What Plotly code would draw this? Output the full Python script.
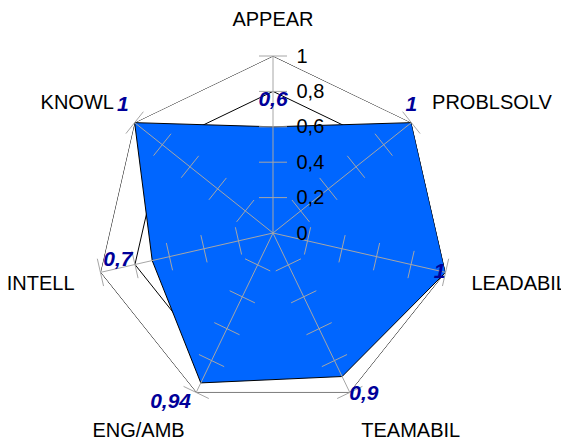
import plotly.graph_objects as go

categories = ['APPEAR', 'PROBLSOLV', 'LEADABIL', 'TEAMABIL', 'ENG/AMB', 'INTELL', 'KNOWL']
scores = [0.6, 1, 1, 0.9, 0.94, 0.7, 1]
score_labels = ['0,6', '1', '1', '0,9', '0,94', '0,7', '1']
label_pos = ['top center', 'top center', 'middle left', 'bottom right',
             'bottom left', 'middle left', 'top left']
label_pad = [24, 8, 0, 10, 14, 30, 8]
radial_ticks = [0, 0.2, 0.4, 0.6, 0.8, 1]
radial_ticktext = ['0', '0,2', '0,4', '0,6', '0,8', '1']

GRAY = '#A6A6A6'
closed = categories + categories[:1]

fig = go.Figure()

# black polygon grid, under the fill
for t in radial_ticks[1:]:
    fig.add_trace(go.Scatterpolar(
        r=[t] * len(closed), theta=closed, mode='lines',
        line=dict(color='black', width=1), hoverinfo='skip'))

# filled area
fig.add_trace(go.Scatterpolar(
    r=scores + scores[:1], theta=closed,
    mode='lines', fill='toself', fillcolor='#0066FF',
    line=dict(color='black', width=1), hoverinfo='skip'))

# gray spokes above the fill
for c in categories:
    fig.add_trace(go.Scatterpolar(
        r=[0, 1], theta=[c, c], mode='lines',
        line=dict(color=GRAY, width=1), hoverinfo='skip'))

# cross ticks on every spoke
step = 360 / len(categories)
tick_r, tick_theta, tick_angle = [], [], []
for i, c in enumerate(categories):
    for t in radial_ticks:
        tick_r.append(t)
        tick_theta.append(c)
        tick_angle.append(i * step)
fig.add_trace(go.Scatterpolar(
    r=tick_r, theta=tick_theta, mode='markers',
    marker=dict(symbol='line-ew', size=20, angle=tick_angle,
                line=dict(color=GRAY, width=1)),
    hoverinfo='skip'))

# value labels (invisible markers push the text away from the point)
fig.add_trace(go.Scatterpolar(
    r=scores, theta=categories, mode='markers+text', text=score_labels,
    textposition=label_pos,
    marker=dict(size=label_pad, color='rgba(0,0,0,0)', line=dict(width=0)),
    textfont=dict(family='Liberation Sans', size=21, color='#000099',
                  weight='bold', style='italic'),
    hoverinfo='skip'))

fig.update_layout(
    width=569, height=444,
    margin=dict(l=88, r=127, t=48, b=42),
    paper_bgcolor='white',
    showlegend=False,
    font=dict(family='Liberation Sans', size=20, color='black'),
    polar=dict(
        bgcolor='rgba(0,0,0,0)',
        gridshape='linear',
        radialaxis=dict(
            range=[0, 1], angle=90, tickangle=90,
            tickvals=radial_ticks, ticktext=radial_ticktext,
            showgrid=False, showline=False,
            ticks='outside', ticklen=19, tickcolor='rgba(0,0,0,0)',
            tickfont=dict(size=20, color='black'),
            layer='above traces'),
        angularaxis=dict(
            direction='clockwise', rotation=90,
            showline=False, showgrid=False,
            ticks='outside', ticklen=22, tickcolor='rgba(0,0,0,0)',
            tickfont=dict(size=20, color='black')),
    ),
)

fig.write_html("out.html")
